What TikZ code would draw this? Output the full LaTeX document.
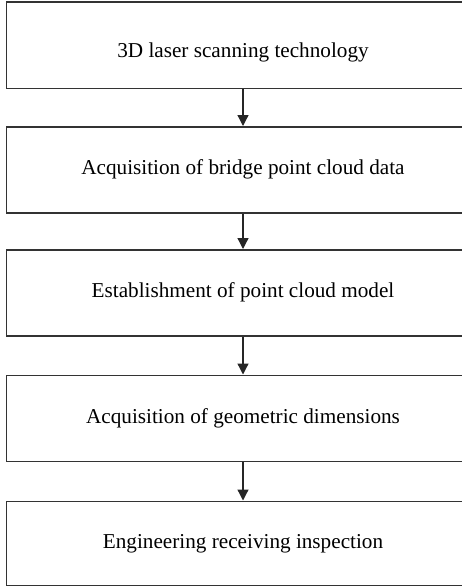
\documentclass[tikz,border=0pt]{standalone}
\usepackage{fontspec}
\setmainfont{Liberation Serif}
\usetikzlibrary{arrows.meta}
\begin{document}
\begin{tikzpicture}[x=1pt,y=-1pt,
  stepbox/.style={draw=black!80, line width=1.5pt, minimum width=473.5pt, minimum height=86pt, inner sep=0pt, font=\fontsize{21.2}{25}\selectfont, anchor=north west},
  conn/.style={draw=black!85, line width=1.3pt, -{Triangle[width=11pt,length=11pt]}}]
\useasboundingbox (0,0) rectangle (462,586);
\begin{scope}
\clip (0,0) rectangle (462,586);
\node[stepbox] (b1) at (5.5,1.5) {\raisebox{-12pt}[0pt][0pt]{3D laser scanning technology}};
\node[stepbox] (b2) at (5.5,126) {Acquisition of bridge point cloud data};
\node[stepbox] (b3) at (5.5,249) {Establishment of point cloud model};
\node[stepbox] (b4) at (5.5,374.5) {Acquisition of geometric dimensions};
\node[stepbox, minimum height=84.5pt] (b5) at (5.5,500.5) {Engineering receiving inspection};
\end{scope}
\draw[conn] (b1.south) -- (b2.north);
\draw[conn] (b2.south) -- (b3.north);
\draw[conn] (b3.south) -- (b4.north);
\draw[conn] (b4.south) -- (b5.north);
\end{tikzpicture}
\end{document}
